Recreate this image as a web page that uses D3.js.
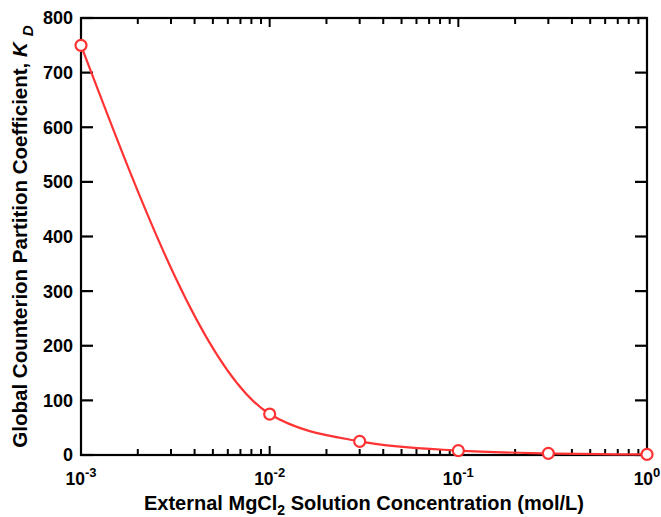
<!DOCTYPE html>
<html>
<head>
<meta charset="utf-8">
<script src="https://cdn.jsdelivr.net/npm/d3@7"></script>
<style>
  body { margin: 0; background: white; }
  text { font-family: "Liberation Sans", Arial, sans-serif; font-weight: bold; }
</style>
</head>
<body>
<div id="chart"></div>
<script>
// data
var conc = [0.001, 0.01, 0.03, 0.1, 0.3, 1];
var kd = [750, 75, 25, 8, 3, 1];
var yTicks = [0, 100, 200, 300, 400, 500, 600, 700, 800];
var xMajor = [-3, -2, -1, 0];

var W = 661, H = 517;
var margin = {top: 18, right: 14, bottom: 62, left: 81};
var width = W - margin.left - margin.right,
    height = H - margin.top - margin.bottom;

var svg = d3.select("#chart").append("svg")
    .attr("width", W).attr("height", H);
var g = svg.append("g").attr("transform", "translate(" + margin.left + "," + margin.top + ")");

var x = d3.scaleLog().domain([0.001, 1]).range([0, width]);
var y = d3.scaleLinear().domain([0, 800]).range([height, 0]);

// minor tick positions
var minor = [];
xMajor.slice(0, 3).forEach(function(e) {
    for (var k = 2; k <= 9; k++) minor.push(k * Math.pow(10, e));
});

// frame
g.append("rect").attr("width", width).attr("height", height)
    .attr("fill", "none").attr("stroke", "black").attr("stroke-width", 2.2);

// y ticks left + right
yTicks.forEach(function(v) {
    g.append("line").attr("x1", 0).attr("x2", 12).attr("y1", y(v)).attr("y2", y(v))
        .attr("stroke", "black").attr("stroke-width", 2.2);
    g.append("line").attr("x1", width - 12).attr("x2", width).attr("y1", y(v)).attr("y2", y(v))
        .attr("stroke", "black").attr("stroke-width", 2.2);
    g.append("text").attr("x", -8).attr("y", y(v)).attr("dy", "0.36em")
        .attr("text-anchor", "end").attr("font-size", 18).text(v);
});

// x ticks bottom + top
xMajor.forEach(function(e) {
    var xp = x(Math.pow(10, e));
    g.append("line").attr("x1", xp).attr("x2", xp).attr("y1", height).attr("y2", height - 9)
        .attr("stroke", "black").attr("stroke-width", 2);
    g.append("line").attr("x1", xp).attr("x2", xp).attr("y1", 0).attr("y2", 9)
        .attr("stroke", "black").attr("stroke-width", 2);
    var t = g.append("text").attr("x", xp).attr("y", height + 30)
        .attr("text-anchor", "middle").attr("font-size", 17.5);
    t.append("tspan").text("10");
    t.append("tspan").attr("dy", -8).attr("font-size", 13).text(e == 0 ? "0" : "-" + (-e));
});
minor.forEach(function(v) {
    var xp = x(v);
    g.append("line").attr("x1", xp).attr("x2", xp).attr("y1", height).attr("y2", height - 6)
        .attr("stroke", "black").attr("stroke-width", 2);
    g.append("line").attr("x1", xp).attr("x2", xp).attr("y1", 0).attr("y2", 6)
        .attr("stroke", "black").attr("stroke-width", 2);
});

// curve
var pts = conc.map(function(c, i) { return [c, kd[i]]; });
var line = d3.line()
    .x(function(d) { return x(d[0]); })
    .y(function(d) { return y(d[1]); })
    .curve(d3.curveMonotoneX);
g.append("path").datum(pts).attr("d", line)
    .attr("fill", "none").attr("stroke", "#ff3333").attr("stroke-width", 2.2);

g.selectAll("circle").data(pts).enter().append("circle")
    .attr("cx", function(d) { return x(d[0]); })
    .attr("cy", function(d) { return y(d[1]); })
    .attr("r", 5.5)
    .attr("fill", "white").attr("stroke", "#ff3333").attr("stroke-width", 2.2);

// axis titles
var xt = svg.append("text").attr("x", margin.left + width / 2).attr("y", 510)
    .attr("text-anchor", "middle").attr("font-size", 20);
xt.append("tspan").text("External MgCl");
xt.append("tspan").attr("dy", 5).attr("font-size", 14).text("2");
xt.append("tspan").attr("dy", -5).text(" Solution Concentration (mol/L)");

var yt = svg.append("text")
    .attr("transform", "translate(27,236.5) rotate(-90)")
    .attr("text-anchor", "middle").attr("font-size", 20.5);
yt.append("tspan").text("Global Counterion Partition Coefficient, ");
yt.append("tspan").attr("font-style", "italic").text("K");
yt.append("tspan").attr("font-style", "italic").attr("dy", 6).attr("dx", 6).attr("font-size", 15).text("D");
</script>
</body>
</html>
